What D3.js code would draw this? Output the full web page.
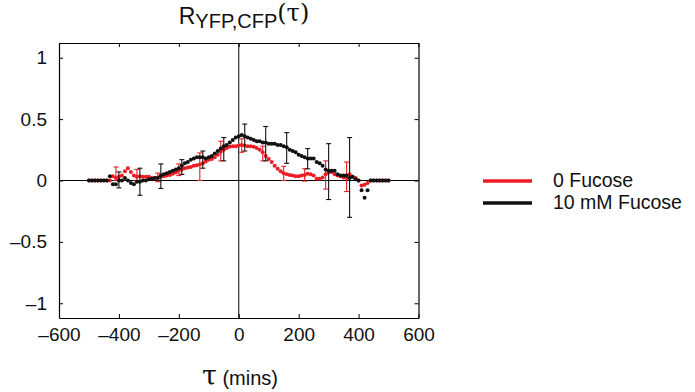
<!DOCTYPE html>
<html>
<head>
<meta charset="utf-8">
<script src="https://cdn.jsdelivr.net/npm/d3@7"></script>
<style>
  html, body { margin: 0; padding: 0; background: #fff; }
  svg { display: block; font-family: "Liberation Sans", Arial, Helvetica, sans-serif; }
</style>
</head>
<body>
<svg id="chart" width="695" height="392"></svg>
<script>
// ---- data ----
const tau = d3.range(-500, 501, 10); // lag in minutes (sampling grid)

const fuc0 = [
  0, 0, 0, 0, 0, 0, 0, 0, 0.035, 0.02,           // -500 .. -410
  0.03, 0.04, 0.075, 0.10, 0.07, 0.04, 0.03, 0.035, 0.03, 0.03, // -400 .. -310
  0.03, 0.02, 0.02, 0.025, 0.03, 0.035, 0.04, 0.045, 0.055, 0.065, // -300 .. -210
  0.08, 0.09, 0.10, 0.105, 0.11, 0.12, 0.125, 0.13, 0.14, 0.155, // -200 .. -110
  0.17, 0.175, 0.19, 0.21, 0.235, 0.25, 0.265, 0.275, 0.28, 0.28, // -100 .. -10
  0.285,                                           // 0
  0.29, 0.285, 0.28, 0.28, 0.275, 0.265, 0.25, 0.23, 0.20, 0.175, // 10 .. 100
  0.15, 0.12, 0.095, 0.075, 0.06, 0.05, 0.045, 0.04, 0.035, 0.035, // 110 .. 200
  0.04, 0.045, 0.055, 0.05, 0.04, 0.015, 0.015, 0.025, 0.05, 0.065, // 210 .. 300
  0.07, 0.05, 0.04, 0.035, 0.025, 0.02, 0.05, 0.03, 0.02, 0.0,   // 310 .. 400
  -0.04, -0.035, -0.02, 0, 0, 0, 0, 0, 0, 0       // 410 .. 500
];

const fuc10 = [
  0, 0, 0, 0, 0, 0, 0, 0.035, -0.03, -0.03,       // -500 .. -410
  0.0, 0.0, 0.02, 0.0, -0.02, -0.03, -0.01, -0.01, 0.0, 0.0, // -400 .. -310
  0.01, 0.015, 0.02, 0.02, 0.04, 0.05, 0.06, 0.07, 0.08, 0.09, // -300 .. -210
  0.10, 0.12, 0.14, 0.15, 0.17, 0.18, 0.19, 0.19, 0.19, 0.18, // -200 .. -110
  0.19, 0.20, 0.22, 0.24, 0.26, 0.28, 0.29, 0.31, 0.33, 0.35, // -100 .. -10
  0.36,                                            // 0
  0.37, 0.36, 0.35, 0.34, 0.33, 0.32, 0.32, 0.31, 0.31, 0.30, // 10 .. 100
  0.30, 0.30, 0.29, 0.29, 0.28, 0.27, 0.25, 0.24, 0.23, 0.21, // 110 .. 200
  0.20, 0.19, 0.18, 0.18, 0.18, 0.15, 0.14, 0.12, 0.09, 0.08, // 210 .. 300
  0.08, 0.08, 0.05, 0.04, 0.04, 0.04, 0.02, 0.03, 0.01, 0.0,  // 310 .. 400
  -0.08, -0.14, -0.08, 0, 0, 0, 0, 0, 0, 0         // 410 .. 500
];

// error bars
const errX0  = [-410, -340, -270, -200, -130, -60, 10, 80, 150, 220, 290, 360];
const errLo0 = [0.0, 0.0, -0.01, 0.04, 0.0, 0.16, 0.23, 0.16, 0.0, -0.005, -0.07, -0.09];
const errHi0 = [0.11, 0.09, 0.06, 0.135, 0.225, 0.32, 0.34, 0.28, 0.115, 0.095, 0.16, 0.15];

const errX10  = [-400, -330, -260, -190, -120, -50, 20, 90, 160, 230, 300, 370];
const errLo10 = [-0.06, -0.12, -0.065, 0.05, 0.10, 0.16, 0.24, 0.16, 0.14, 0.095, -0.155, -0.30];
const errHi10 = [0.07, 0.10, 0.135, 0.17, 0.24, 0.35, 0.46, 0.44, 0.39, 0.26, 0.30, 0.35];

const xTicks = [-600, -400, -200, 0, 200, 400, 600];
const yTicks = [-1, -0.5, 0, 0.5, 1];
const seriesNames = ["0 Fucose", "10 mM Fucose"];
const seriesColors = ["#ed1c24", "#111111"];

// ---- layout ----
const svg = d3.select("#chart");
const L = 59, R = 418.5, T = 43, B = 318;
const x = d3.scaleLinear().domain([-600, 600]).range([L, R]);
const y = d3.scaleLinear().domain([-1.12, 1.12]).range([B, T]);

const fmt = v => (v < 0 ? "\u2013" + Math.abs(v) : String(v));

// zero lines
svg.append("line").attr("x1", x(0)).attr("x2", x(0)).attr("y1", T).attr("y2", B)
  .attr("stroke", "#000").attr("stroke-width", 1);
svg.append("line").attr("x1", L).attr("x2", R).attr("y1", y(0)).attr("y2", y(0))
  .attr("stroke", "#000").attr("stroke-width", 1);

// axes (inward ticks, boxed)
const tl = 4;
const gx = svg.append("g").attr("transform", `translate(0,${B})`)
  .call(d3.axisBottom(x).tickValues(xTicks).tickFormat(fmt).tickSizeInner(-tl).tickSizeOuter(0).tickPadding(10));
const gxTop = svg.append("g").attr("transform", `translate(0,${T})`)
  .call(d3.axisTop(x).tickValues(xTicks).tickFormat("").tickSizeInner(-tl).tickSizeOuter(0));
const gy = svg.append("g").attr("transform", `translate(${L},0)`)
  .call(d3.axisLeft(y).tickValues(yTicks).tickFormat(fmt).tickSizeInner(-tl).tickSizeOuter(0).tickPadding(12));
const gyR = svg.append("g").attr("transform", `translate(${R},0)`)
  .call(d3.axisRight(y).tickValues(yTicks).tickFormat("").tickSizeInner(-tl).tickSizeOuter(0));

[gx, gxTop, gy, gyR].forEach(g => {
  g.select(".domain").attr("stroke", "#000").attr("stroke-width", 1.2);
  g.selectAll(".tick line").attr("stroke", "#000");
  g.selectAll("text").attr("font-size", 19).attr("fill", "#111")
    .attr("font-family", "Liberation Sans, Arial, sans-serif");
});

// series drawing
function drawSeries(vals, ex, lo, hi, color) {
  const g = svg.append("g");
  g.selectAll("circle").data(tau.map((t, i) => [t, vals[i]])).join("circle")
    .attr("cx", d => x(d[0])).attr("cy", d => y(d[1])).attr("r", 2).attr("fill", color);
  const eb = g.append("g").attr("stroke", color).attr("stroke-width", 1.1).attr("fill", "none");
  ex.forEach((t, i) => {
    eb.append("line").attr("x1", x(t)).attr("x2", x(t)).attr("y1", y(lo[i])).attr("y2", y(hi[i]));
    eb.append("line").attr("x1", x(t) - 2.5).attr("x2", x(t) + 2.5).attr("y1", y(lo[i])).attr("y2", y(lo[i]));
    eb.append("line").attr("x1", x(t) - 2.5).attr("x2", x(t) + 2.5).attr("y1", y(hi[i])).attr("y2", y(hi[i]));
  });
}
drawSeries(fuc0, errX0, errLo0, errHi0, seriesColors[0]);
drawSeries(fuc10, errX10, errLo10, errHi10, seriesColors[1]);

// title
const title = svg.append("text").attr("x", 244).attr("y", 24).attr("text-anchor", "middle")
  .attr("fill", "#111");
title.append("tspan").attr("font-size", 23).text("R");
title.append("tspan").attr("font-size", 20).attr("dy", 4).text("YFP,CFP");
title.append("tspan").attr("font-size", 24).attr("dy", -7).attr("font-family", "DejaVu Serif, serif").text("(\u03C4)");

// x label
const xl = svg.append("text").attr("x", 240).attr("y", 385).attr("text-anchor", "middle").attr("fill", "#111");
xl.append("tspan").attr("font-size", 27).attr("font-family", "DejaVu Serif, serif").text("\u03C4");
xl.append("tspan").attr("font-size", 20).text(" (mins)");

// legend
const lg = svg.append("g");
seriesNames.forEach((name, i) => {
  const yy = 181 + i * 22;
  lg.append("line").attr("x1", 483).attr("x2", 532).attr("y1", yy).attr("y2", yy)
    .attr("stroke", seriesColors[i]).attr("stroke-width", 3.5);
  lg.append("text").attr("x", 553).attr("y", yy + 6).attr("font-size", 19.5).attr("fill", "#111").text(name);
});
</script>
</body>
</html>
